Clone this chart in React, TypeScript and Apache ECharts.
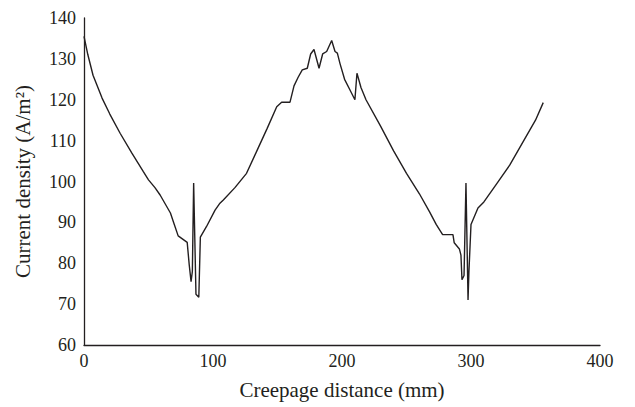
import React, { useEffect, useRef } from "react";
import * as echarts from "echarts";

const distanceMm: number[] = [
  0, 3, 7, 14, 20, 28, 37, 46, 50, 55, 59, 63, 67, 70, 73, 80, 81.6, 83, 84, 85,
  86.8, 89, 90.2, 95, 101.6, 105.4, 108, 117, 126, 134, 142, 149.4, 153.2, 159.7,
  162.8, 166, 169.2, 173.1, 175.7, 178.3, 182.2, 185, 188.1, 192, 194.6, 196.4,
  198.4, 202, 206, 210, 211.6, 214.7, 218.6, 230, 240, 250, 260, 268, 273, 278,
  286, 287, 291, 292.2, 293, 294.6, 296.1, 297.7, 298.4, 300, 305.4, 310, 320,
  330, 340, 350, 356,
];

const currentDensity: number[] = [
  135.5, 131, 126, 120.4, 116.5, 111.8, 107, 102.4, 100.4, 98.5, 96.7, 94.5, 92.3,
  89.5, 86.7, 85.1, 79.5, 75.5, 78, 99.6, 72.4, 71.7, 86.4, 89, 93, 94.7, 95.5,
  98.5, 102, 107.5, 113, 118.3, 119.4, 119.4, 123.4, 125.5, 127.3, 127.7, 131.2,
  132.3, 127.7, 131.2, 131.8, 134.5, 131.8, 131.4, 128.9, 125, 122.5, 120, 126.5,
  123, 120, 113.5, 107.5, 102, 97, 92.5, 89.5, 87, 87, 85, 83.5, 82, 76, 77, 99.6,
  71, 78, 89.5, 93.5, 95, 99.5, 104, 109.5, 115, 119.3,
];

const FONT = "'Liberation Serif', 'Times New Roman', serif";

export default function App() {
  const ref = useRef<HTMLDivElement>(null);
  useEffect(() => {
    if (!ref.current) return;
    const chart = echarts.init(ref.current, null, { renderer: "svg" });
    const data = distanceMm.map((x, i) => [x, currentDensity[i]]);
    chart.setOption({
      animation: false,
      backgroundColor: "#ffffff",
      grid: { left: 84, right: 35, top: 18, bottom: 62, containLabel: false },
      xAxis: {
        type: "value",
        min: 0,
        max: 400,
        interval: 100,
        name: "Creepage distance (mm)",
        nameLocation: "middle",
        nameGap: 34,
        nameTextStyle: { fontFamily: FONT, fontSize: 21, color: "#231f20" },
        axisLine: { lineStyle: { color: "#231f20", width: 1.3 } },
        axisTick: { show: false },
        splitLine: { show: false },
        axisLabel: { fontFamily: FONT, fontSize: 18, color: "#231f20", margin: 7 },
      },
      yAxis: {
        type: "value",
        min: 60,
        max: 140,
        interval: 10,
        name: "Current density (A/m²)",
        nameLocation: "middle",
        nameGap: 51,
        nameTextStyle: { fontFamily: FONT, fontSize: 21, color: "#231f20" },
        axisLine: { show: true, lineStyle: { color: "#231f20", width: 1.3 } },
        axisTick: { show: false },
        splitLine: { show: false },
        axisLabel: { fontFamily: FONT, fontSize: 18, color: "#231f20", margin: 8 },
      },
      series: [
        {
          type: "line",
          data,
          showSymbol: false,
          symbol: "none",
          lineStyle: { color: "#231f20", width: 1.4 },
        },
      ],
    });
    return () => chart.dispose();
  }, []);
  return (
    <div
      ref={ref}
      style={{ position: "absolute", left: 0, top: 0, width: 635, height: 407 }}
    />
  );
}
